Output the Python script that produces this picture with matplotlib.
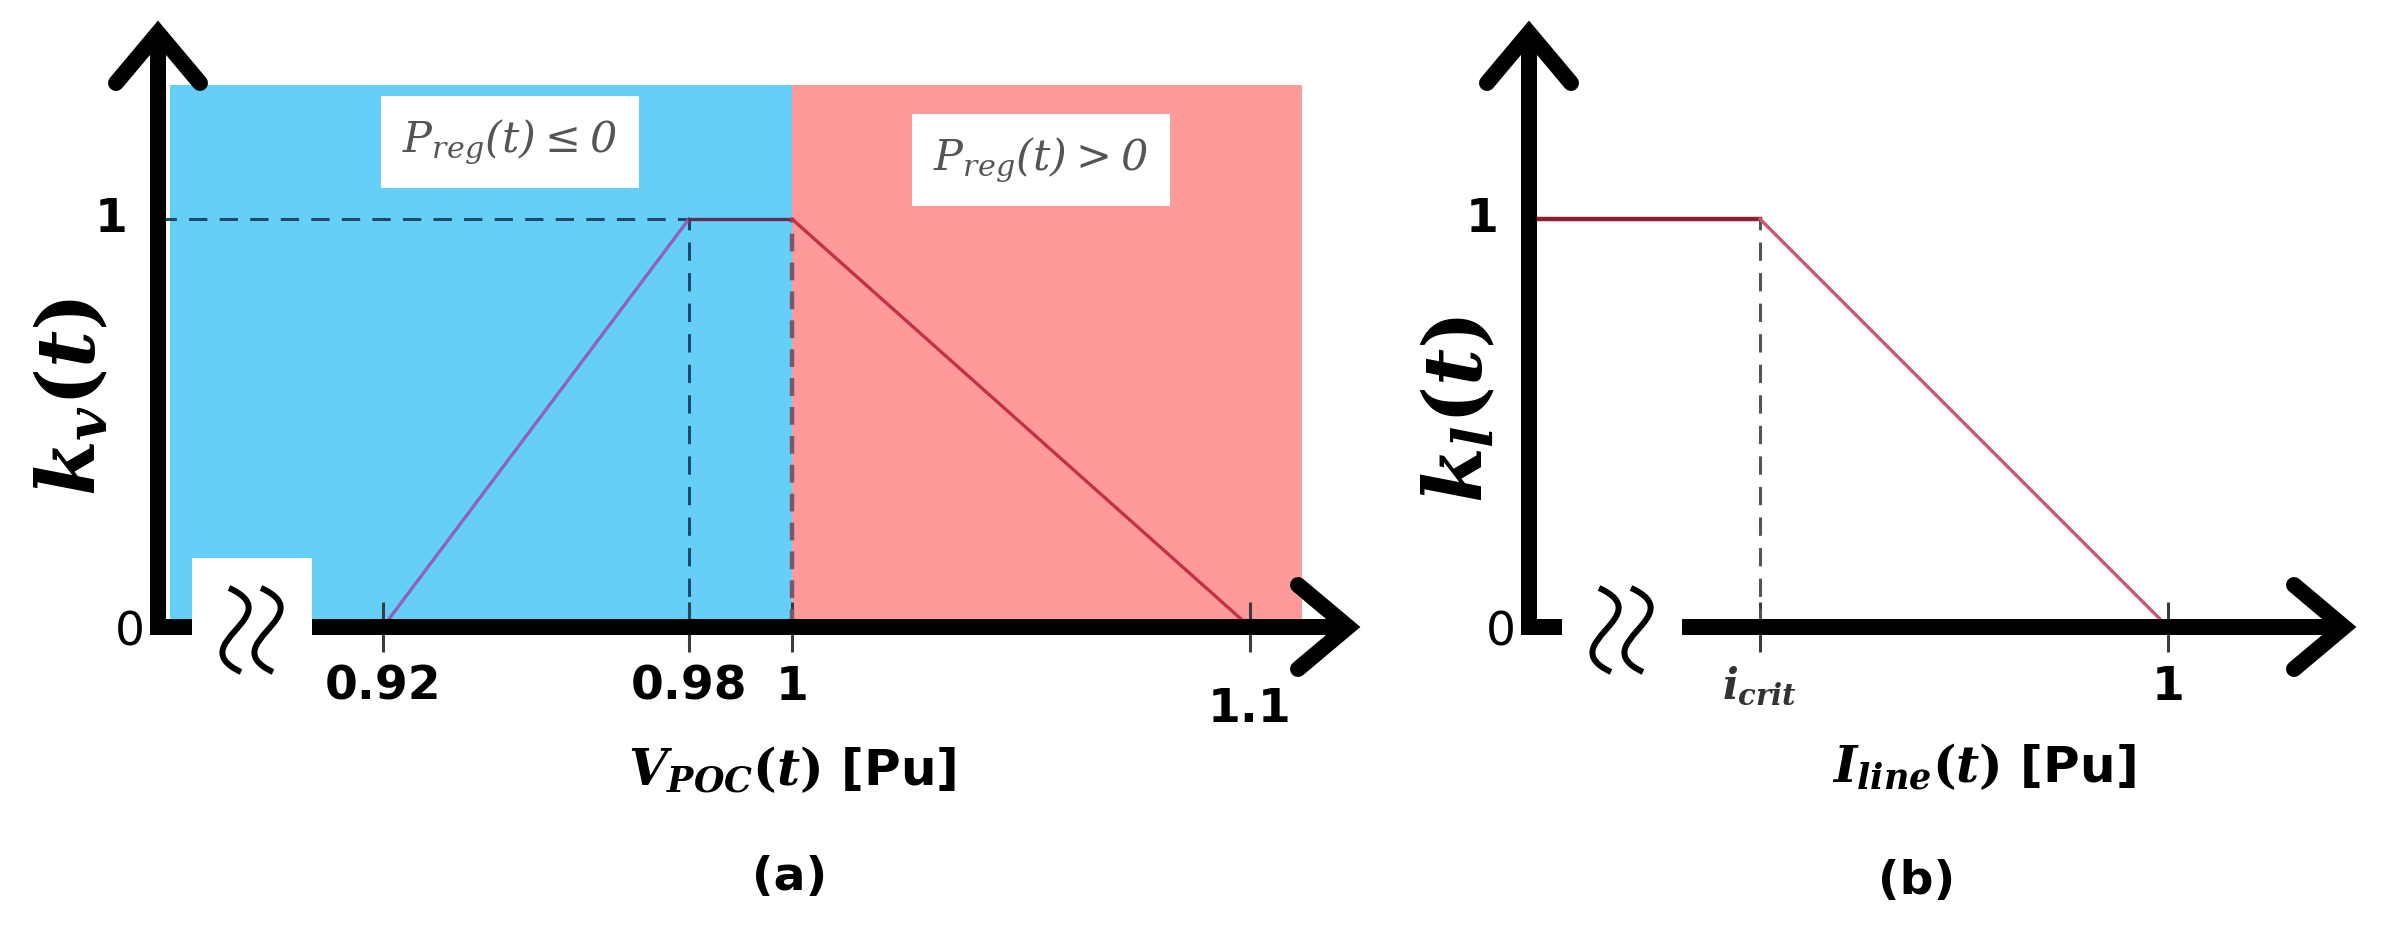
import numpy as np
import matplotlib.pyplot as plt
from matplotlib.patches import Rectangle, PathPatch
from matplotlib.path import Path
from matplotlib.transforms import ScaledTranslation, Affine2D

plt.rcParams['font.family'] = ['DejaVu Sans']
plt.rcParams['mathtext.fontset'] = 'custom'
plt.rcParams['mathtext.it'] = 'DejaVu Serif:italic:bold'
plt.rcParams['mathtext.rm'] = 'DejaVu Serif:bold'
plt.rcParams['mathtext.sf'] = 'DejaVu Serif:italic'

# ---- data ----
# panel (a): k_v versus V_POC
v_points = [0.92, 0.98, 1.0, 1.1]
kv_points = [0, 1, 1, 0]
v_ticks = [0.92, 0.98, 1.0, 1.1]
v_tick_labels = ['0.92', '0.98', '1', '1.1']
v_split = 1.0          # boundary between the two shaded regions

# panel (b): k_l versus I_line (i_crit is schematic)
i_crit = 0.5
i_end = 1.0
kl_points = [1, 1, 0]
i_ticks = [i_crit, i_end]
i_tick_labels = [r'$i_{crit}$', '1']

# ---- layout (pixels of the 2386x935 picture) ----
W, H, DPI = 2386, 935, 100
AX_Y0, AX_TOP = 627, 33          # y of x-axis and of arrow tips
PX_PER_K = 408                   # vertical pixels per unit of k
# non-uniform drawing scale of panel (a)
v_knots = [0.80, 0.92, 0.98, 1.0, 1.1, 1.3]
v_knot_px = [-229, 383, 689, 792, 1250, 2166]

AXIS_LW = 11.5
BLUE = '#66CFF8'
PINK = '#FF9A9A'

fig = plt.figure(figsize=(W / DPI, H / DPI), dpi=DPI)
fig.patch.set_facecolor('white')


def fwd(x):
    return np.interp(x, v_knots, v_knot_px)


def inv(p):
    return np.interp(p, v_knot_px, v_knots)


def make_axes(x0, x1):
    ax = fig.add_axes([x0 / W, (H - AX_Y0) / H, (x1 - x0) / W, (AX_Y0 - AX_TOP) / H])
    ax.set_facecolor('none')
    for s in ax.spines.values():
        s.set_visible(False)
    ax.set_ylim(0, (AX_Y0 - AX_TOP) / PX_PER_K)
    ax.set_yticks([])
    return ax


# wavy break mark, pixel offsets around its centre
wave = Path([(-7, 42), (55, 14), (-55, -14), (5, -42)],
            [Path.MOVETO, Path.CURVE4, Path.CURVE4, Path.CURVE4])


def draw_frame(ax, x0, x1, gap0, gap1):
    axw, axh = x1 - x0, AX_Y0 - AX_TOP
    kw = dict(color='black', lw=AXIS_LW, transform=ax.transAxes, clip_on=False,
              zorder=6, solid_joinstyle='miter')
    g0, g1 = (gap0 - x0) / axw, (gap1 - x0) / axw
    ax.plot([0, 0, g0], [1, 0, 0], solid_capstyle='butt', **kw)
    ax.plot([g1, 1], [0, 0], solid_capstyle='butt', **kw)
    hw, d = 42, 50
    ax.plot([-hw / axw, 0, hw / axw], [1 - d / axh, 1, 1 - d / axh], solid_capstyle='round', **kw)
    ax.plot([1 - d / axw, 1, 1 - d / axw], [hw / axh, 0, -hw / axh], solid_capstyle='round', **kw)
    # axis break symbol
    xc = (gap0 + gap1) / 2
    for dx in (-16, 16):
        fig.add_artist(PathPatch(wave, transform=Affine2D().translate(xc + dx, H - AX_Y0 - 3),
                                 facecolor='none', edgecolor='black', lw=4.3, zorder=7))
    # origin labels
    ax.annotate('1', xy=(0, 1), xycoords=('axes fraction', 'data'), xytext=(-34, 0),
                textcoords='offset points', ha='center', va='center',
                fontsize=34, fontweight='bold')
    ax.annotate('0', xy=(0, 0), xycoords='axes fraction', xytext=(-20, -4),
                textcoords='offset points', ha='center', va='center', fontsize=34)


def style_ticks(ax, ticks, labels):
    ax.set_xticks(ticks, labels)
    ax.tick_params(axis='x', direction='inout', length=36, width=2.2, color='#3c3c3c',
                   pad=9, labelsize=34)
    for lbl in ax.get_xticklabels():
        lbl.set_fontweight('bold')


# ---------- panel (a) ----------
A0, A1 = 158, 1348
ax1 = make_axes(A0, A1)
ax1.set_xscale('function', functions=(fwd, inv))
ax1.set_xlim(inv(A0), inv(A1))
region_top = (AX_Y0 - 85) / PX_PER_K
ax1.axvspan(inv(170), v_split, 0, region_top / ax1.get_ylim()[1], color=BLUE, lw=0, zorder=1)
ax1.axvspan(v_split, inv(1302), 0, region_top / ax1.get_ylim()[1], color=PINK, lw=0, zorder=1)
ax1.add_patch(Rectangle((inv(192), 0), inv(312) - inv(192), (AX_Y0 - 558) / PX_PER_K,
                        facecolor='white', edgecolor='none', zorder=2))

dash = (0, (6, 4))
ax1.hlines(1, inv(A0), v_points[1], colors='#1D4A6B', linestyles=dash, lw=2.2, zorder=3)
ax1.vlines(v_points[1], 0, 1, colors='#1D4A6B', linestyles=dash, lw=2.2, zorder=3)
ax1.vlines(v_split, 0, 1, colors='#7A5866', linestyles=(0, (4, 2.5)), lw=3.2, zorder=3)

seg_colors = ['#9161BE', '#5E2F52', '#C4304A']
for i in range(3):
    ax1.plot(v_points[i:i + 2], kv_points[i:i + 2], color=seg_colors[i], lw=2.4, zorder=4)

style_ticks(ax1, v_ticks, v_tick_labels)
last = ax1.get_xticklabels()[-1]
last.set_transform(last.get_transform() + ScaledTranslation(0, -0.22, fig.dpi_scale_trans))
draw_frame(ax1, A0, A1, 192, 312)

box = dict(boxstyle='square,pad=0.5', facecolor='white', edgecolor='none')
ax1.text(inv(510), (AX_Y0 - 142) / PX_PER_K, r'$\mathsf{P_{reg}(t) \leq 0}$', fontsize=31,
         color='#555555', ha='center', va='center', bbox=box, zorder=7)
ax1.text(inv(1041), (AX_Y0 - 160) / PX_PER_K, r'$\mathsf{P_{reg}(t) > 0}$', fontsize=31,
         color='#555555', ha='center', va='center', bbox=box, zorder=7)

# ---------- panel (b) ----------
B0, B1 = 1529, 2344
ax2 = make_axes(B0, B1)
px_per_i = (2168 - 1760) / (i_end - i_crit)
ax2.set_xlim(i_crit - (1760 - B0) / px_per_i, i_end + (B1 - 2168) / px_per_i)
i_start = ax2.get_xlim()[0]
ax2.plot([i_start, i_crit], kl_points[:2], color='#8B1E30', lw=3.2, zorder=4)
ax2.plot([i_crit, i_end], kl_points[1:], color='#CC5570', lw=2.4, zorder=4)
ax2.vlines(i_crit, 0, 1, colors='#555555', linestyles=dash, lw=2.2, zorder=3)
style_ticks(ax2, i_ticks, i_tick_labels)
ax2.get_xticklabels()[0].set_color('#333333')
ax2.get_xticklabels()[0].set_fontsize(30)
draw_frame(ax2, B0, B1, 1562, 1682)

# ---------- axis titles ----------
fig.text(73 / W, 1 - 397 / H, r'$k_v(t)$', rotation=90, fontsize=58, ha='center', va='center')
fig.text(1460 / W, 1 - 410 / H, r'$k_l(t)$', rotation=90, fontsize=58, ha='center', va='center')
fig.text(792 / W, 1 - 770 / H, r'$V_{POC}(t)$ [Pu]', fontsize=36, fontweight='bold',
         ha='center', va='center')
fig.text(1984 / W, 1 - 767 / H, r'$I_{line}(t)$ [Pu]', fontsize=36, fontweight='bold',
         ha='center', va='center')
fig.text(790 / W, 1 - 877 / H, '(a)', fontsize=34, fontweight='bold', ha='center', va='center')
fig.text(1917 / W, 1 - 882 / H, '(b)', fontsize=34, fontweight='bold', ha='center', va='center')

fig.savefig('out.png', dpi=DPI, facecolor='white')
